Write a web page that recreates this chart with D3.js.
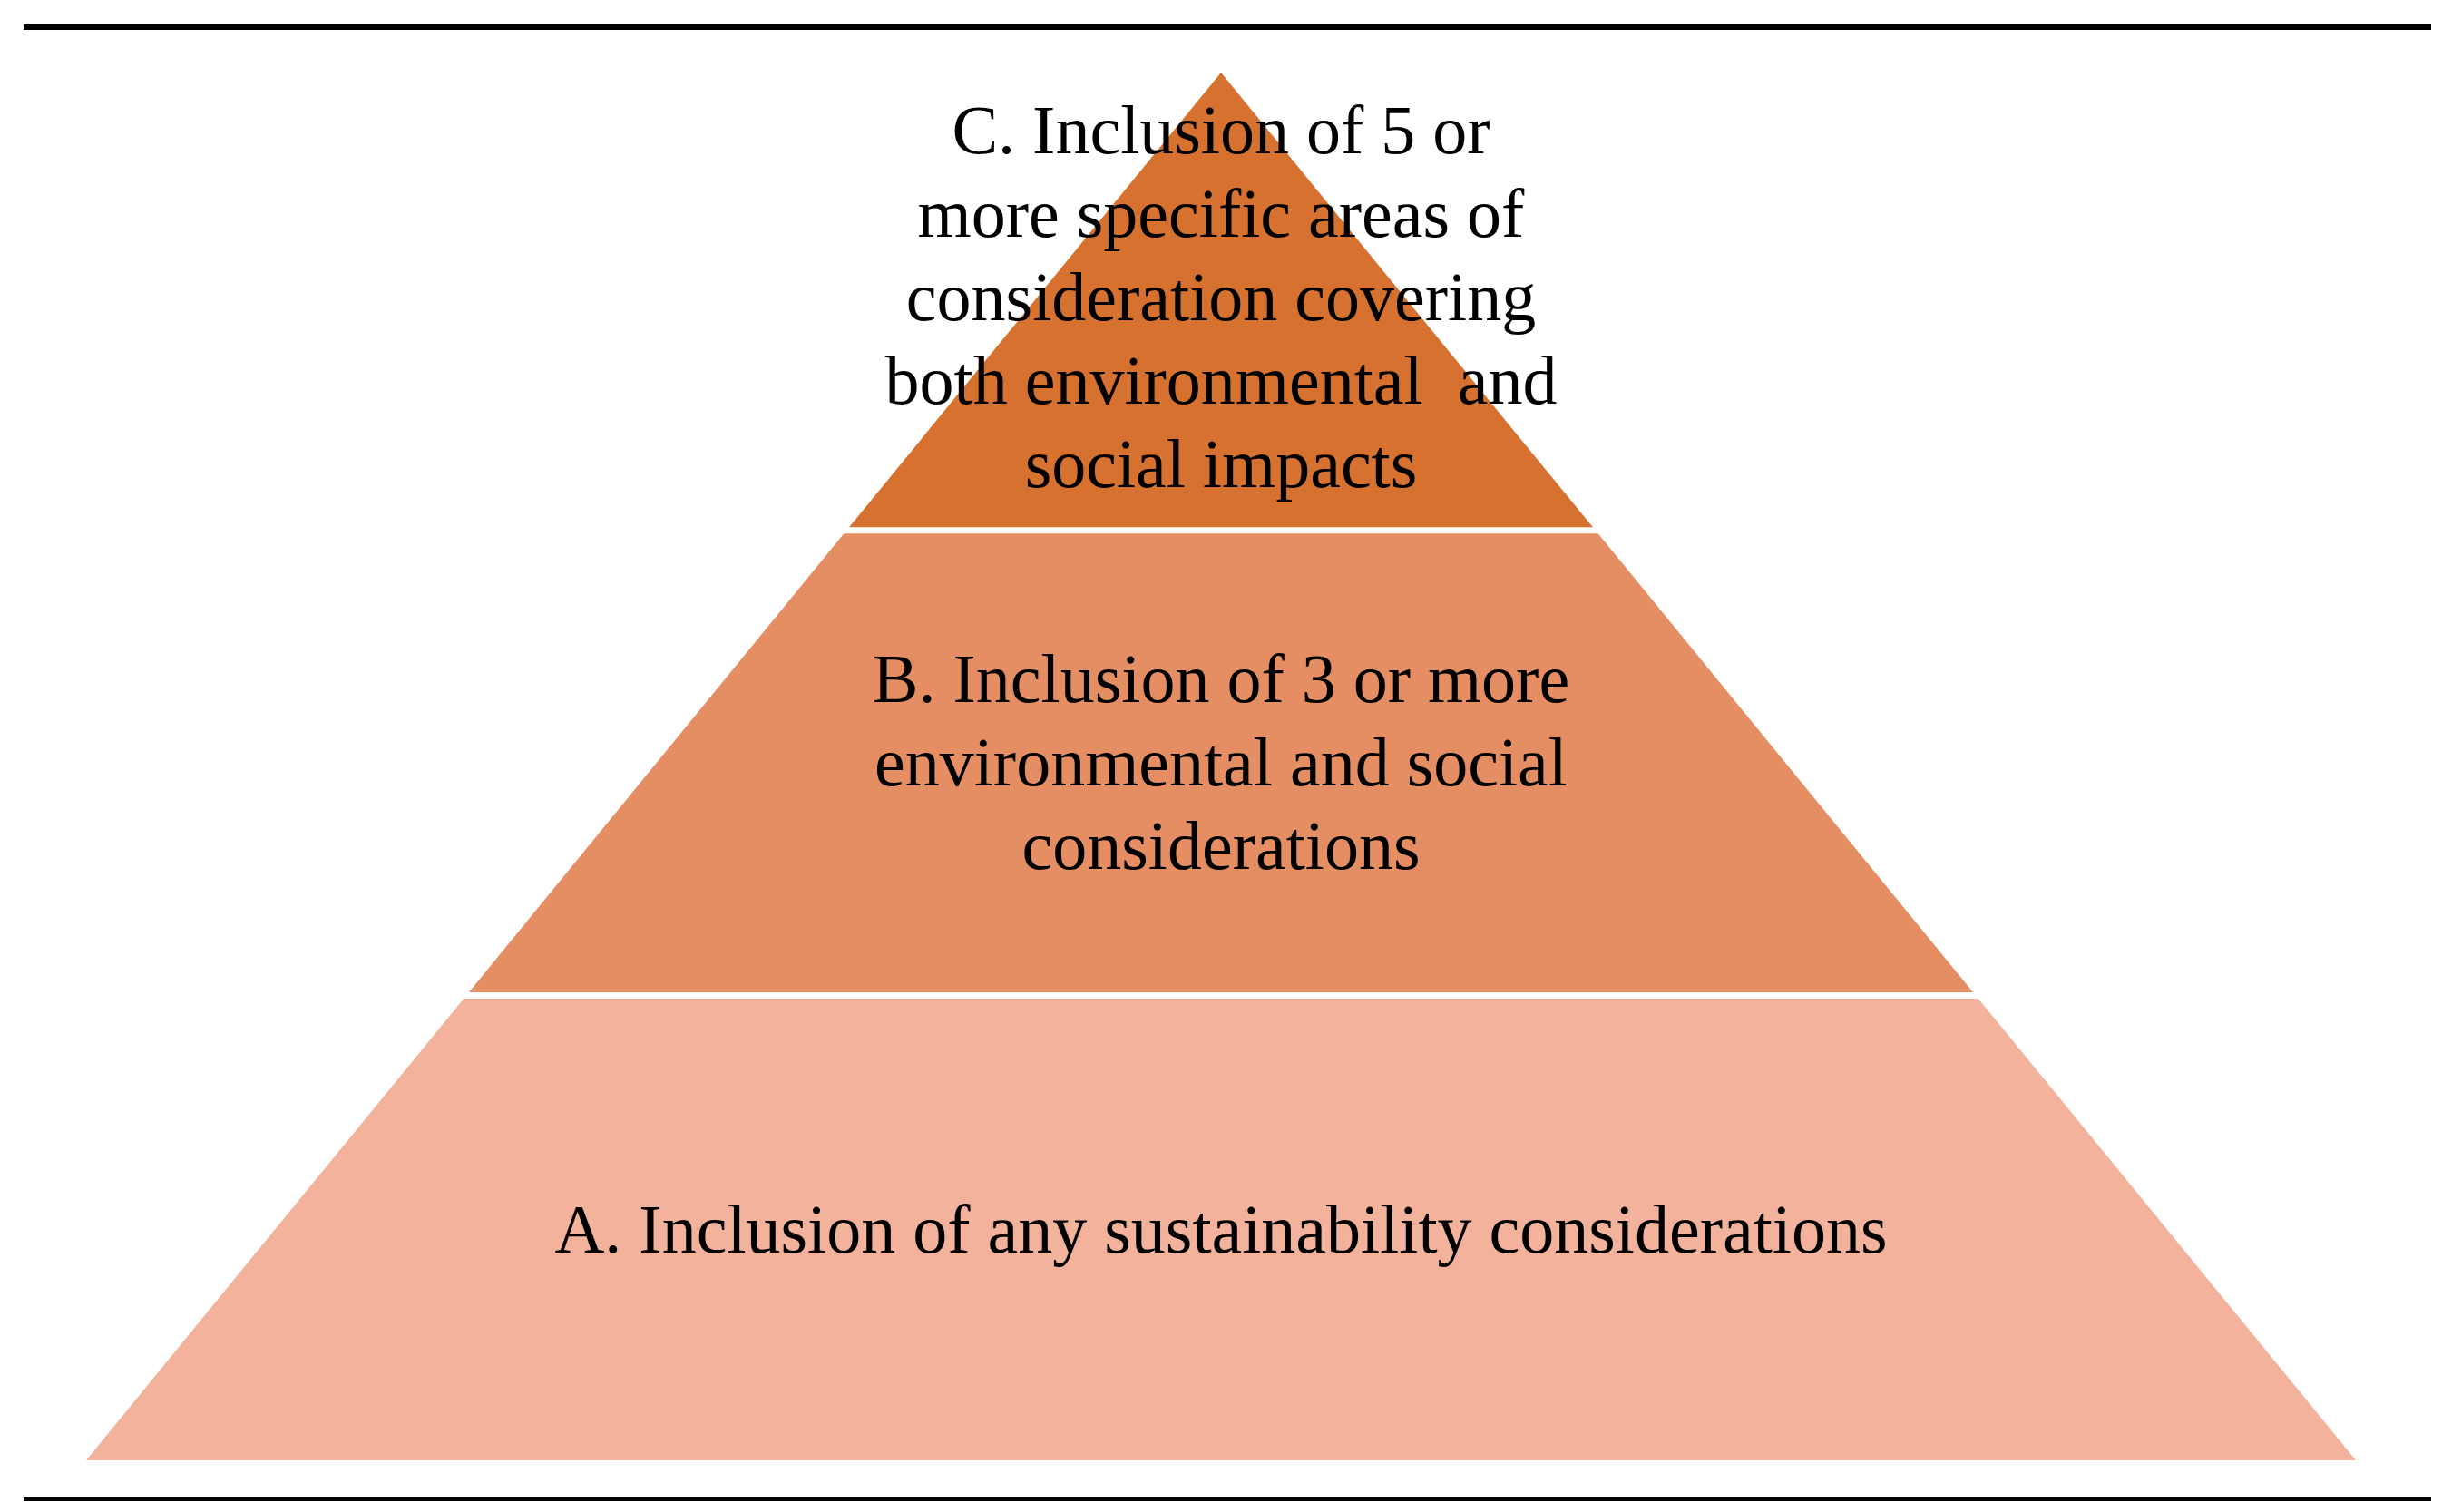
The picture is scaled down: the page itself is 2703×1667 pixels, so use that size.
<!DOCTYPE html>
<html><head><meta charset="utf-8">
<script src="https://cdn.jsdelivr.net/npm/d3@7"></script>
<style>body{margin:0;background:#fff}</style>
</head><body>
<script>
var W = 2703, H = 1667;
// levels from bottom to top
var levels = ['A', 'B', 'C'];
var colors = ['#F2B29B', '#E68E63', '#D67130'];
var labels = [
  ['A. Inclusion of any sustainability considerations'],
  ['B. Inclusion of 3 or more', 'environmental and social', 'considerations'],
  ['C. Inclusion of 5 or', 'more specific areas of', 'consideration covering', 'both environmental  and', 'social impacts']
];
// band boundaries (0 = base, 3 = apex), with C band top being the apex
var bounds = [0, 1, 2, 3];

var svg = d3.select('body').append('svg').attr('width', W).attr('height', H);

var cx = 1346, apexY = 80, baseY = 1610, halfBase = 1251;
var y = d3.scaleLinear().domain([0, 2.985]).range([baseY, apexY]);
// C band is roughly shorter, so use measured boundaries
var bandY = [0, 1.0, 2.0, 2.985];
var half = d3.scaleLinear().domain([baseY, apexY]).range([halfBase, 0]);

svg.selectAll('path.band')
  .data(levels)
  .enter().append('path')
  .attr('class', 'band')
  .attr('fill', function(d, i) { return colors[i]; })
  .attr('d', function(d, i) {
    var y0 = y(bandY[i]), y1 = y(bandY[i + 1]);
    var h0 = half(y0), h1 = half(y1);
    return 'M' + (cx - h0) + ',' + y0 + 'L' + (cx + h0) + ',' + y0 +
      'L' + (cx + h1) + ',' + y1 + 'L' + (cx - h1) + ',' + y1 + 'Z';
  });

// white separators
svg.selectAll('line.sep')
  .data([1, 2])
  .enter().append('line')
  .attr('class', 'sep')
  .attr('x1', 0).attr('x2', W)
  .attr('y1', function(d) { return y(bandY[d]); })
  .attr('y2', function(d) { return y(bandY[d]); })
  .attr('stroke', '#fff').attr('stroke-width', 7);

// rules
svg.selectAll('line.rule')
  .data([{y: 30, w: 6}, {y: 1653, w: 4}])
  .enter().append('line')
  .attr('x1', 26).attr('x2', 2680)
  .attr('y1', function(d) { return d.y; }).attr('y2', function(d) { return d.y; })
  .attr('stroke', '#000').attr('stroke-width', function(d) { return d.w; });

var firstBaseline = [1381, 774, 169];
var lineH = 92;
labels.forEach(function(lines, i) {
  svg.append('g').selectAll('text')
    .data(lines)
    .enter().append('text')
    .attr('x', cx)
    .attr('y', function(d, j) { return firstBaseline[i] + j * lineH; })
    .attr('text-anchor', 'middle')
    .attr('font-family', 'Liberation Serif, DejaVu Serif, serif')
    .attr('font-size', 76)
    .attr('fill', '#000')
    .style('white-space', 'pre')
    .text(function(d) { return d; });
});
</script>
</body></html>
